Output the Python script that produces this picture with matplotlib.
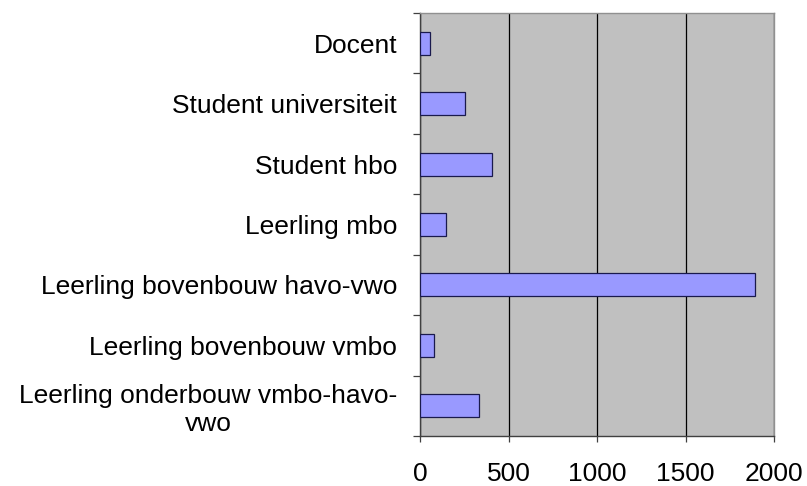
import matplotlib.pyplot as plt
import numpy as np

plt.rcParams['font.family'] = ['Liberation Sans', 'DejaVu Sans']

# Categories, top to bottom as shown in the chart
categories = [
    "Docent",
    "Student universiteit",
    "Student hbo",
    "Leerling mbo",
    "Leerling bovenbouw havo-vwo",
    "Leerling bovenbouw vmbo",
    "Leerling onderbouw vmbo-havo-\nvwo",
]
counts = [56, 253, 407, 149, 1890, 81, 335]
xticks = [0, 500, 1000, 1500, 2000]

fig = plt.figure(figsize=(8.07, 4.86), dpi=100)
ax = fig.add_axes([420 / 807, 1 - 436 / 486, 354 / 807, 423 / 486])
ax.set_facecolor('#c0c0c0')

# Bars, drawn bottom-up so first category is on top
pos = np.arange(len(categories))[::-1]
ax.barh(pos, counts, height=0.38, color='#9999ff', edgecolor='#1a1a4d',
        linewidth=0.9, zorder=3)

ax.set_xlim(0, 2000)
ax.set_ylim(-0.5, len(categories) - 0.5)

# Vertical gridlines
ax.set_xticks(xticks)
ax.set_xticklabels([str(t) for t in xticks], fontsize=19)
ax.xaxis.grid(True, color='black', linewidth=0.9, zorder=1)
ax.tick_params(axis='x', length=4.5, width=0.9, color='#404040', pad=14)

# Category labels with ticks between categories
ax.set_yticks(pos)
ax.set_yticklabels(categories, fontsize=19, multialignment='center')
ax.tick_params(axis='y', which='major', length=0, pad=16.5)
ax.set_yticks(np.arange(-0.5, len(categories)), minor=True)
ax.tick_params(axis='y', which='minor', length=5, width=0.9, color='#404040')

ax.spines['left'].set_color('#404040')
ax.spines['bottom'].set_color('#404040')
ax.spines['right'].set_color('#909090')
ax.spines['top'].set_color('#909090')
for s in ax.spines.values():
    s.set_linewidth(1.0)

plt.savefig('out.png', dpi=100)
